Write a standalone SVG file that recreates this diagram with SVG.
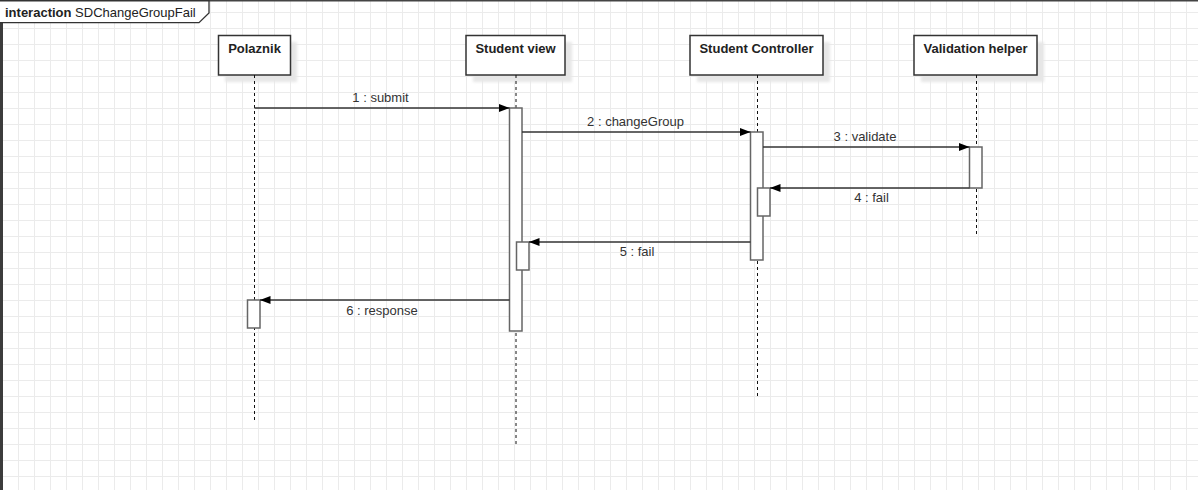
<svg xmlns="http://www.w3.org/2000/svg" width="1198" height="490" viewBox="0 0 1198 490">
  <defs>
    <pattern id="grid" patternUnits="userSpaceOnUse" x="2" y="12" width="16" height="16">
      <path d="M0.5 0 V16 M0 0.5 H16" fill="none" stroke="#ebebeb" stroke-width="1"/>
    </pattern>
    <marker id="arrow" markerUnits="userSpaceOnUse" markerWidth="12" markerHeight="10" refX="11" refY="4.5" orient="auto">
      <path d="M0.5,0.5 L11,4.5 L0.5,8.5 z" fill="#000"/>
    </marker>
    <filter id="soft" x="-10%" y="-10%" width="130%" height="140%">
      <feGaussianBlur stdDeviation="1.5"/>
    </filter>
    <style>
      .title { font-family: "Liberation Sans", Arial, sans-serif; font-size: 13px; font-weight: bold; fill: #222; text-anchor: middle; }
      .msg-label { font-family: "Liberation Sans", Arial, sans-serif; font-size: 13px; fill: #333; text-anchor: middle; }
      .box { fill: #fff; stroke: #333; stroke-width: 1.5; }
      .shadow { fill: #e6e6e6; filter: url(#soft); }
      .lifeline { stroke: #111; stroke-width: 1; stroke-dasharray: 3 3; fill: none; }
      .activation { fill: #fff; stroke: #666; stroke-width: 1.5; }
      .msg { stroke: #333; stroke-width: 1.3; fill: none; marker-end: url(#arrow); }
    </style>
  </defs>

  <!-- canvas and grid -->
  <rect x="0" y="0" width="1198" height="490" fill="#fff"/>
  <rect x="0" y="0" width="1198" height="490" fill="url(#grid)"/>

  <!-- interaction frame -->
  <g id="frame">
    <line x1="0" y1="0.75" x2="1198" y2="0.75" stroke="#444" stroke-width="1.5"/>
    <line x1="1.5" y1="0" x2="1.5" y2="490" stroke="#3c3c3c" stroke-width="3"/>
    <path d="M0,0.75 H209 V13 L199,22.7 H0" fill="#fff" stroke="#333" stroke-width="1.3"/>
    <text x="5" y="17" font-family="Liberation Sans, Arial, sans-serif" font-size="13" fill="#222"><tspan font-weight="bold">interaction</tspan> SDChangeGroupFail</text>
  </g>

  <!-- lifelines -->
  <g id="polaznik">
    <rect class="shadow" x="225" y="42" width="72" height="40"/>
    <rect class="box" x="218.5" y="35.5" width="72" height="39.5"/>
    <text class="title" x="254.5" y="53">Polaznik</text>
    <line class="lifeline" x1="254.5" y1="75" x2="254.5" y2="420"/>
  </g>

  <g id="student-view">
    <rect class="shadow" x="473" y="42" width="99" height="40"/>
    <rect class="box" x="466" y="35.5" width="99" height="39.5"/>
    <text class="title" x="515.5" y="53">Student view</text>
    <line class="lifeline" x1="516" y1="75" x2="516" y2="444"/>
  </g>

  <g id="student-controller">
    <rect class="shadow" x="697" y="42" width="133" height="40"/>
    <rect class="box" x="690" y="35.5" width="133" height="39.5"/>
    <text class="title" x="756.5" y="53">Student Controller</text>
    <line class="lifeline" x1="757.5" y1="75" x2="757.5" y2="396"/>
  </g>

  <g id="validation-helper">
    <rect class="shadow" x="921" y="42" width="123" height="40"/>
    <rect class="box" x="914" y="35.5" width="123" height="39.5"/>
    <text class="title" x="975.5" y="53">Validation helper</text>
    <line class="lifeline" x1="976.5" y1="75" x2="976.5" y2="236"/>
  </g>

  <!-- activation bars -->
  <g id="activations">
    <rect class="activation" x="509.5" y="108" width="12.5" height="223"/>
    <rect class="activation" x="750.5" y="132" width="12.5" height="128"/>
    <rect class="activation" x="969.5" y="147" width="12.5" height="41"/>
    <rect class="activation" x="757.5" y="188" width="12.5" height="28"/>
    <rect class="activation" x="516.5" y="242" width="12.5" height="28"/>
    <rect class="activation" x="247.5" y="300" width="12.5" height="28"/>
  </g>

  <!-- messages -->
  <g id="connectors">
    <line class="msg" x1="254.5" y1="108" x2="509.5" y2="108"/>
    <text class="msg-label" x="380.5" y="102">1 : submit</text>

    <line class="msg" x1="522" y1="132" x2="750.5" y2="132"/>
    <text class="msg-label" x="635.5" y="126">2 : changeGroup</text>

    <line class="msg" x1="763" y1="147" x2="969.5" y2="147"/>
    <text class="msg-label" x="865" y="141">3 : validate</text>

    <line class="msg" x1="969.5" y1="188" x2="770" y2="188"/>
    <text class="msg-label" x="871.5" y="202">4 : fail</text>

    <line class="msg" x1="750.5" y1="242" x2="529" y2="242"/>
    <text class="msg-label" x="637" y="256">5 : fail</text>

    <line class="msg" x1="509.5" y1="300" x2="260" y2="300"/>
    <text class="msg-label" x="382" y="315">6 : response</text>
  </g>
</svg>
